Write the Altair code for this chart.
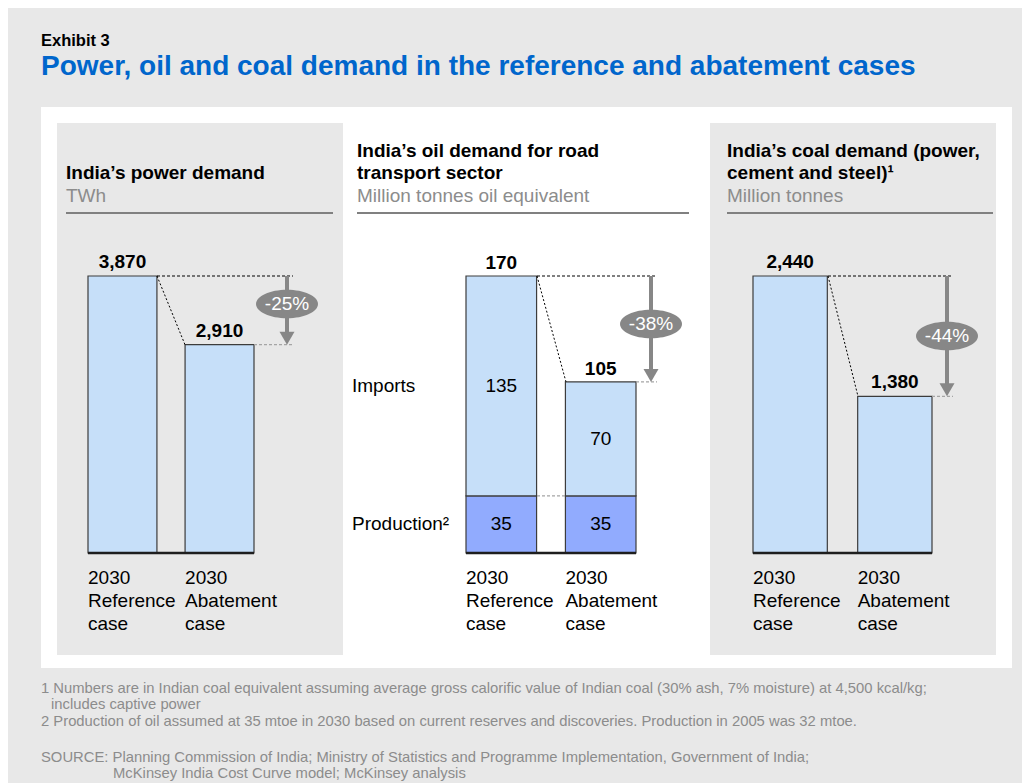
import altair as alt
import pandas as pd

# ---------------- data ----------------
cases = ["Reference", "Abatement"]
case_labels = ["2030\nReference\ncase", "2030\nAbatement\ncase"]
power_twh = [3870, 2910]
oil_production = [35, 35]
oil_imports = [135, 70]
coal_mt = [2440, 1380]
change_labels = ["-25%", "-38%", "-44%"]
segment_names = ["Production\u00b2", "Imports"]

exhibit = "Exhibit 3"
main_title = "Power, oil and coal demand in the reference and abatement cases"
power_title = ["India\u2019s power demand"]
power_unit = "TWh"
oil_title = ["India\u2019s oil demand for road", "transport sector"]
oil_unit = "Million tonnes oil equivalent"
coal_title = ["India\u2019s coal demand (power,", "cement and steel)\u00b9"]
coal_unit = "Million tonnes"
footnotes = [
    "1 Numbers are in Indian coal equivalent assuming average gross calorific value of Indian coal (30% ash, 7% moisture) at 4,500 kcal/kg;",
    "includes captive power",
    "2 Production of oil assumed at 35 mtoe in 2030 based on current reserves and discoveries. Production in 2005 was 32 mtoe.",
    "SOURCE: Planning Commission of India; Ministry of Statistics and Programme Implementation, Government of India;",
    "McKinsey India Cost Curve model; McKinsey analysis",
]

# ---------------- style ----------------
FONT = "Liberation Sans"
BG = "#E8E8E8"
LIGHT = "#C6DFF9"
PROD = "#91ABFE"
EDGE = "#3C3C3C"
BLUE = "#0066CC"
SUB = "#8C8C8C"
ARROW = "#878787"
O = 8  # page margin offset


def P(v):
    return v - O


TRI = "M -1 -1.73 L 1 -1.73 L 0 0 Z"
ELL = "M -1 0 A 1 0.46 0 1 1 1 0 A 1 0.46 0 1 1 -1 0 Z"


def txt(s, x, y, size=19, color="#000000", weight="normal", align="left", baseline="alphabetic"):
    return alt.Chart(pd.DataFrame({"t": [s]})).mark_text(
        align=align, baseline=baseline, fontSize=size, font=FONT,
        fontWeight=weight, color=color
    ).encode(x=alt.value(x), y=alt.value(y), text="t:N")


def rect(x1, y1, x2, y2, color):
    return alt.Chart(pd.DataFrame({"a": [0]})).mark_rect(color=color).encode(
        x=alt.value(P(x1)), x2=alt.value(P(x2)), y=alt.value(P(y1)), y2=alt.value(P(y2))
    )


def hrule(x1, x2, y, color, width=2):
    return alt.Chart(pd.DataFrame({"a": [0]})).mark_rule(color=color, strokeWidth=width).encode(
        x=alt.value(P(x1)), x2=alt.value(P(x2)), y=alt.value(P(y))
    )


def connectors(ref, abate, chg, ref_right, abate_left, abate_right, arrow_x, ell_y, base_l, base_r):
    conn = pd.DataFrame({"ref": [ref], "abate": [abate], "chg": [chg], "zero": [0]})
    c = alt.Chart(conn)
    end_x = arrow_x + 6
    layers = [
        c.mark_rule(color="#000000", strokeWidth=1, strokeDash=[3, 2]).encode(
            x=alt.value(P(ref_right)), x2=alt.value(P(end_x)), y="ref:Q"),
        c.mark_rule(color="#A5A5A5", strokeWidth=1.2, strokeDash=[3, 2]).encode(
            x=alt.value(P(abate_right)), x2=alt.value(P(end_x)), y="abate:Q"),
        c.mark_rule(color="#000000", strokeWidth=1, strokeDash=[2, 2]).encode(
            x=alt.value(P(ref_right)), x2=alt.value(P(abate_left)), y="ref:Q", y2="abate:Q"),
        c.mark_rule(color=ARROW, strokeWidth=4, y2Offset=-8).encode(
            x=alt.value(P(arrow_x)), y="ref:Q", y2="abate:Q"),
        c.mark_point(shape=TRI, size=225, filled=True, color=ARROW, opacity=1, strokeWidth=0).encode(
            x=alt.value(P(arrow_x)), y="abate:Q"),
        c.mark_point(shape=ELL, size=62 * 62, filled=True, color=ARROW, opacity=1, strokeWidth=0).encode(
            x=alt.value(P(arrow_x)), y=alt.value(P(ell_y))),
        c.mark_text(color="white", fontSize=19, font=FONT, baseline="middle").encode(
            x=alt.value(P(arrow_x)), y=alt.value(P(ell_y)), text="chg:N"),
        c.mark_rule(color="#1E1E1E", strokeWidth=2.5).encode(
            x=alt.value(P(base_l)), x2=alt.value(P(base_r)), y="zero:Q"),
    ]
    return layers


def simple_panel(values, band, chg, ref_right, abate_left, abate_right, arrow_x, ell_y):
    df = pd.DataFrame({"case": cases, "value": values, "label": case_labels,
                       "text": [f"{v:,}" for v in values]})
    xs = alt.Scale(domain=cases, range=[P(band[0]), P(band[1])], paddingInner=0.29, paddingOuter=0)
    ys = alt.Scale(domain=[0, values[0]], range=[P(553), P(276)], nice=False, zero=True)
    base = alt.Chart(df)
    bars = base.mark_bar(fill=LIGHT, stroke=EDGE, strokeWidth=1.2).encode(
        x=alt.X("case:N", scale=xs, sort=cases, axis=None),
        y=alt.Y("value:Q", scale=ys, axis=None))
    vals = base.mark_text(dy=-8, baseline="alphabetic", fontSize=19, fontWeight="bold", font=FONT).encode(
        x=alt.X("case:N", sort=cases), y="value:Q", text="text:N")
    cats = base.mark_text(align="left", baseline="alphabetic", fontSize=19, font=FONT,
                          lineBreak="\n", lineHeight=23).encode(
        x=alt.X("case:N", sort=cases, bandPosition=0), y=alt.value(P(584)), text="label:N")
    return alt.layer(bars, *connectors(values[0], values[1], chg, ref_right, abate_left, abate_right,
                                       arrow_x, ell_y, band[0], band[1]), vals, cats)


# power panel
power_panel = simple_panel(power_twh, (88, 254), change_labels[0], 157, 185, 254, 287, 304)
# coal panel
coal_panel = simple_panel(coal_mt, (753, 932), change_labels[2], 828, 858, 932, 947, 336)

# oil panel (stacked)
totals = [a + b for a, b in zip(oil_production, oil_imports)]
rows = []
for i, c in enumerate(cases):
    rows.append({"case": c, "segment": segment_names[0], "y0": 0, "y1": oil_production[i],
                 "v": oil_production[i], "label": case_labels[i]})
    rows.append({"case": c, "segment": segment_names[1], "y0": oil_production[i], "y1": totals[i],
                 "v": oil_imports[i], "label": case_labels[i]})
oil_df = pd.DataFrame(rows)
oil_df["mid"] = (oil_df["y0"] + oil_df["y1"]) / 2
oil_tot = pd.DataFrame({"case": cases, "total": totals, "label": case_labels})

oxs = alt.Scale(domain=cases, range=[P(466), P(636)], paddingInner=0.29, paddingOuter=0)
oys = alt.Scale(domain=[0, totals[0]], range=[P(553), P(276)], nice=False, zero=True)
ob = alt.Chart(oil_df)
oil_bars = ob.mark_bar(stroke=EDGE, strokeWidth=1.2).encode(
    x=alt.X("case:N", scale=oxs, sort=cases, axis=None),
    y=alt.Y("y1:Q", scale=oys, axis=None), y2="y0:Q",
    fill=alt.Fill("segment:N", scale=alt.Scale(domain=segment_names, range=[PROD, LIGHT]), legend=None))
oil_inner = ob.mark_text(fontSize=19, font=FONT, baseline="middle").encode(
    x=alt.X("case:N", sort=cases), y="mid:Q", text="v:Q")
oil_seglab = ob.transform_filter(alt.datum.case == cases[0]).mark_text(
    align="left", fontSize=19, font=FONT, baseline="middle").encode(
    x=alt.value(P(352)), y="mid:Q", text="segment:N")
ot = alt.Chart(oil_tot)
oil_vals = ot.mark_text(dy=-7, baseline="alphabetic", fontSize=19, fontWeight="bold", font=FONT).encode(
    x=alt.X("case:N", sort=cases), y="total:Q", text="total:Q")
oil_cats = ot.mark_text(align="left", baseline="alphabetic", fontSize=19, font=FONT,
                        lineBreak="\n", lineHeight=23).encode(
    x=alt.X("case:N", sort=cases, bandPosition=0), y=alt.value(P(584)), text="label:N")
prod_line = alt.Chart(pd.DataFrame({"p": [oil_production[0]]})).mark_rule(
    color="#A5A5A5", strokeWidth=1.2, strokeDash=[3, 2]).encode(
    x=alt.value(P(537)), x2=alt.value(P(566)), y="p:Q")
oil_panel = alt.layer(oil_bars, prod_line,
                      *connectors(totals[0], totals[1], change_labels[1], 537, 566, 636, 651, 324, 466, 636),
                      oil_inner, oil_seglab, oil_vals, oil_cats)

# ---------------- frame & text ----------------
frame = [
    rect(41, 107, 1012, 668, "#FFFFFF"),
    rect(57, 123, 343, 655, BG),
    rect(710, 123, 996, 655, BG),
    hrule(66, 333, 213, "#808080"),
    hrule(357, 689, 213, "#808080"),
    hrule(727, 993, 213, "#808080"),
]

texts = [
    txt(exhibit, P(41), P(46), size=16.5, weight="bold"),
    txt(main_title, P(41), P(75), size=28, weight="bold", color=BLUE),
    txt(power_title[0], P(66), P(179), weight="bold"),
    txt(power_unit, P(66), P(202), color=SUB),
    txt(oil_title[0], P(357), P(157), weight="bold"),
    txt(oil_title[1], P(357), P(179), weight="bold"),
    txt(oil_unit, P(357), P(202), color=SUB),
    txt(coal_title[0], P(727), P(157), weight="bold"),
    txt(coal_title[1], P(727), P(179), weight="bold"),
    txt(coal_unit, P(727), P(202), color=SUB),
    txt(footnotes[0], P(41), P(693), size=14.8, color=SUB),
    txt(footnotes[1], P(51), P(709), size=14.8, color=SUB),
    txt(footnotes[2], P(41), P(726), size=14.8, color=SUB),
    txt(footnotes[3], P(41), P(762), size=14.8, color=SUB),
    txt(footnotes[4], P(113), P(778), size=14.8, color=SUB),
]

chart = alt.layer(*frame, power_panel, oil_panel, coal_panel, *texts).resolve_scale(
    x="independent", y="independent", fill="independent"
).properties(
    width=1014, height=775, padding=0, background=BG,
    autosize=alt.AutoSizeParams(type="none")
).configure_view(stroke=None)

chart.save("out.html", embed_options={"renderer": "svg", "actions": False})
